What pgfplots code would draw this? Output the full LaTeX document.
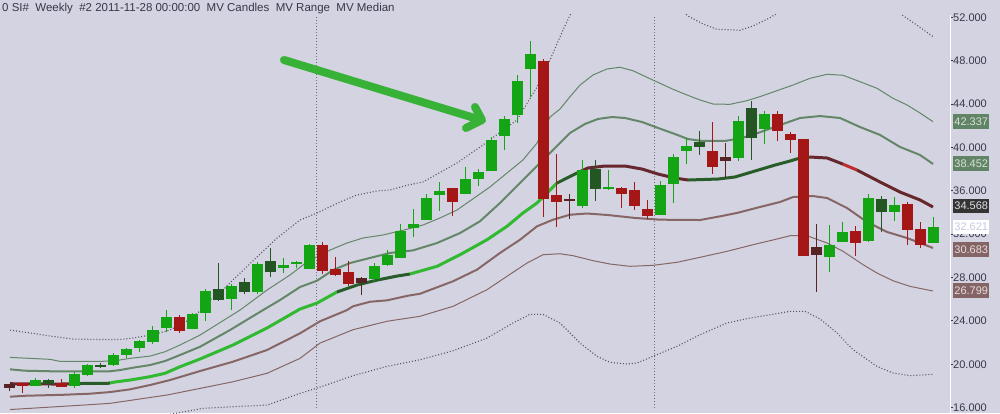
\documentclass[border=0pt]{standalone}
\usepackage{pgfplots}
\pgfplotsset{compat=1.18}
\usepackage{pgfplotstable}
\usepackage{fontspec}
\setmainfont{Liberation Sans}
\definecolor{bg}{RGB}{211,211,225}
\definecolor{labcol}{RGB}{55,55,75}
\definecolor{cgreen}{RGB}{20,165,20}
\definecolor{cdkgreen}{RGB}{36,86,36}
\definecolor{cred}{RGB}{165,22,22}
\definecolor{cmaroon}{RGB}{86,36,36}
\definecolor{mgreen}{RGB}{50,185,50}
\definecolor{mdkgreen}{RGB}{40,92,40}
\definecolor{mmaroon}{RGB}{102,40,45}
\definecolor{mred}{RGB}{190,45,45}
\definecolor{bandgreen}{RGB}{100,135,105}
\definecolor{bandbrown}{RGB}{135,102,102}
\definecolor{dotcol}{RGB}{85,85,95}
\definecolor{vdot}{RGB}{110,110,122}
\definecolor{arrowgreen}{RGB}{55,178,55}
\definecolor{boxgreen}{RGB}{98,132,102}
\definecolor{boxbrown}{RGB}{132,100,100}
\definecolor{boxdark}{RGB}{52,52,52}

\pgfplotstableread{
x lo hi bb bt
2 18.01 18.73 18.01 18.54
5 17.83 19.31 18.01 19.09
6 18.94 19.99 19.00 19.92
8 19.83 21.03 19.92 20.85
9 20.60 21.52 20.85 21.40
10 21.12 22.26 21.49 22.14
11 21.89 23.52 22.05 23.15
12 23.00 25.00 23.34 24.35
14 23.24 24.72 23.24 24.63
15 24.01 26.91 24.75 26.75
17 25.00 27.40 26.01 27.21
19 26.47 29.43 26.66 29.24
21 28.41 29.80 28.90 29.15
22 28.87 29.52 29.24 29.43
23 28.78 31.09 28.78 31.00
28 27.67 29.33 27.86 29.06
29 29.06 30.53 29.15 30.07
30 29.80 32.93 29.80 32.29
31 31.73 34.32 32.59 32.93
32 33.33 35.70 33.33 35.33
33 34.16 36.81 35.63 35.98
35 35.73 38.19 35.73 37.08
36 36.46 38.01 37.11 37.73
37 37.85 40.96 37.85 40.68
38 39.79 42.89 41.01 42.62
39 42.28 46.68 43.01 46.12
40 44.68 49.81 47.26 48.61
44 34.44 38.84 34.62 37.91
46 36.10 37.91 36.19 36.35
50 33.79 36.90 33.79 36.53
51 34.90 39.39 36.65 39.11
52 38.50 40.86 39.69 40.13
56 38.77 42.89 39.05 42.43
58 40.34 43.36 41.72 43.08
63 28.53 32.84 29.92 31.00
64 31.30 33.14 31.30 32.20
66 31.30 35.70 31.39 35.33
68 33.24 35.42 34.07 34.68
71 31.21 33.58 31.21 32.65
}\tgreen

\pgfplotstableread{
x lo hi bb bt
3 17.83 18.63 18.14 18.54
7 19.65 20.14 19.74 19.92
16 25.86 29.33 25.92 26.94
18 26.50 27.95 26.66 27.58
20 28.07 30.72 28.50 29.52
45 35.08 38.84 36.19 38.01
53 39.32 41.51 40.06 40.50
57 38.86 44.28 40.89 43.63
67 32.22 35.52 34.07 35.24
}\tdkgreen

\pgfplotstableread{
x lo hi bb bt
1 17.37 18.29 18.01 18.29
4 17.92 18.63 17.92 18.24
13 22.90 24.54 23.09 24.35
24 28.35 31.27 28.60 31.00
25 28.13 29.89 28.23 28.78
26 27.21 29.52 27.40 28.50
34 33.70 36.25 34.99 36.25
41 33.61 48.15 35.27 47.97
42 32.68 39.39 34.99 35.61
47 34.44 36.35 35.73 36.25
48 34.25 36.81 34.62 36.07
49 33.42 35.15 33.70 34.32
54 37.57 42.34 38.22 39.67
59 40.62 43.36 41.54 43.08
60 39.51 41.42 40.71 41.23
61 30.01 40.77 30.01 40.77
65 30.01 32.75 31.21 32.29
69 31.02 34.96 32.41 34.78
70 30.75 33.12 31.02 32.47
}\tred

\pgfplotstableread{
x lo hi bb bt
0 17.53 18.17 17.83 18.17
27 26.38 28.04 27.49 27.95
43 33.42 35.70 35.08 35.24
55 37.20 40.40 38.77 39.11
62 26.69 32.93 30.10 30.81
}\tmaroon

\newcommand{\candles}[2]{%
  \addplot[draw=none, mark=none, forget plot, error bars/.cd, y dir=plus, y explicit, error mark=none,
    error bar style={draw=#2, line width=1pt}]
    table[x=x, y=lo, y error expr=\thisrow{hi}-\thisrow{lo}] {#1};
  \addplot[draw=none, mark=none, forget plot, error bars/.cd, y dir=plus, y explicit, error mark=none,
    error bar style={draw=#2, line width=11pt}]
    table[x=x, y=bb, y error expr=\thisrow{bt}-\thisrow{bb}] {#1};
}

\begin{document}
\begin{tikzpicture}
\path[use as bounding box] (0pt,0pt) rectangle (1000pt,413pt);
\fill[bg] (0pt,0pt) rectangle (1000pt,413pt);
\begin{axis}[
  at={(0pt,0pt)}, anchor=south west,
  scale only axis, width=950pt, height=398pt,
  xmin=-0.769, xmax=72.308, ymin=15.50, ymax=52.21,
  axis x line=none,
  axis y line*=right,
  y axis line style={draw=white, line width=1pt, -},
  xtick=\empty,
  ytick={16,20,24,28,32,36,40,44,48,52},
  tick align=outside, major tick length=3pt,
  tick style={draw=labcol, line width=0.8pt},
  yticklabel style={font=\fontsize{11}{13}\selectfont, text=labcol, anchor=west, inner sep=0pt},
  /pgf/number format/assume math mode=true,
  yticklabel={\pgfmathprintnumber[fixed,fixed zerofill,precision=3]{\tick}},
  clip=true,
]
% vertical dotted separators
\addplot[vdot, line width=1pt, dash pattern=on 1pt off 2pt] coordinates {(23.54,16.0) (23.54,52.21)};
\addplot[vdot, line width=1pt, dash pattern=on 1pt off 2pt] coordinates {(49.56,16.0) (49.56,52.21)};

% upper dotted band
\addplot[dotcol, line width=1.1pt, dash pattern=on 1pt off 2pt] coordinates {
(0,23.15) (1.54,22.88) (3.08,22.60) (4.85,22.32) (6.92,22.28) (8.46,22.28) (9.46,22.41)
(10.77,22.69) (12.08,23.06) (13.31,23.71) (14.62,24.91) (15.38,25.92) (16.38,26.84)
(17.15,27.77) (19.00,29.89) (20.54,31.64) (22.31,33.30) (23.62,33.95) (25.38,34.96)
(26.69,35.61) (28.23,35.98) (29.23,36.07) (30.62,36.53) (31.77,36.81) (34.38,38.56)
(36.38,40.22) (39.00,42.53) (40.54,45.57) (41.54,48.06) (42.54,50.83) (43.46,53.13)
(45.38,55.90) (47.31,56.82) (49.62,54.98) (52.15,52.12) (53.31,51.38) (54.38,50.89)
(56.15,50.80) (57.15,51.20) (58.23,51.82) (59.23,52.49) (61.54,54.52) (64.23,54.98)
(66.54,54.06) (68.08,52.86) (68.69,52.15) (69.85,51.20) (71.00,50.21)};

% upper thin green band
\addplot[bandgreen, line width=1pt] coordinates {
(0,20.63) (3.08,20.45) (3.85,20.26) (6.92,20.26) (8.08,20.32) (9.23,20.54) (10.77,20.75)
(11.92,21.15) (13.08,21.77) (14.62,22.69) (17.69,24.99) (19.77,26.84) (21.54,28.23)
(22.85,29.43) (24.62,30.53) (25.92,31.18) (27.15,31.64) (28.69,31.92) (30.62,32.47)
(31.77,32.84) (33.08,33.49) (34.38,34.22) (36.92,36.35) (39.46,38.84) (40.54,40.40)
(41.54,42.80) (42.31,43.54) (43.08,44.68) (43.85,45.75) (44.85,46.68) (45.92,47.23)
(46.92,47.39) (47.92,47.07) (49.00,46.46) (50.00,45.91) (51.00,45.36) (52.08,44.83)
(53.08,44.37) (54.08,44.00) (55.38,43.97) (56.69,44.31) (57.69,44.68) (59.00,45.23)
(60.23,45.75) (61.54,46.37) (62.85,46.74) (64.08,46.65) (65.38,46.06) (66.69,45.45)
(67.92,44.53) (69.00,43.91) (70.00,43.17) (71.00,42.37)};

% upper thick green band
\addplot[bandgreen, line width=2pt] coordinates {
(0,19.53) (1.15,19.40) (3.08,19.35) (7.69,19.35) (8.46,19.46) (9.62,19.71) (10.77,19.92)
(11.92,20.29) (13.08,20.85) (14.62,21.61) (16.92,23.15) (19.46,24.99) (20.77,25.92)
(22.31,27.12) (23.62,27.70) (24.85,28.69) (26.15,29.33) (27.69,29.80) (29.23,30.26)
(31.00,30.50) (32.85,31.18) (34.62,32.10) (36.15,33.18) (37.69,34.87) (39.46,36.99)
(41.54,39.48) (43.08,41.33) (44.23,42.16) (45.23,42.62) (46.31,42.80) (47.31,42.71)
(48.62,42.34) (49.85,41.79) (51.15,41.23) (52.15,40.77) (53.23,40.59) (55.00,40.59)
(56.31,40.87) (57.54,41.33) (59.23,42.06) (60.77,42.71) (62.31,42.89) (63.85,42.71)
(65.38,41.88) (66.92,41.15) (68.46,40.04) (70.00,39.30) (71.00,38.47)};

% lower thick brown band
\addplot[bandbrown, line width=2pt] coordinates {
(0,17.00) (1.15,17.09) (4.08,17.18) (6.15,17.28) (7.69,17.43) (9.23,17.68) (10.77,18.08)
(12.31,18.54) (14.62,19.37) (17.15,20.23) (19.77,21.31) (22.31,22.85) (23.85,23.96)
(25.92,24.99) (26.38,25.34) (27.69,25.76) (29.00,25.89) (30.62,26.32) (31.54,26.50)
(34.08,27.65) (35.92,28.72) (37.69,30.26) (39.23,31.48) (40.54,32.72) (41.77,33.33)
(43.08,33.79) (44.38,33.90) (46.00,33.76) (48.08,33.49) (50.00,33.33) (53.08,33.30)
(54.62,33.64) (55.92,33.95) (57.69,34.50) (59.23,34.96) (60.23,35.42) (61.77,35.51)
(62.85,35.33) (64.38,34.41) (65.92,33.12) (67.46,32.20) (69.00,31.64) (71.00,30.72)};

% lower thin brown band
\addplot[bandbrown, line width=1pt] coordinates {
(0,15.82) (1.54,15.93) (5.62,16.23) (7.69,16.39) (9.46,16.70) (12.08,17.16) (14.62,17.77)
(17.15,18.38) (19.77,19.16) (22.31,20.54) (23.85,21.95) (26.38,23.18) (29.00,23.96)
(31.54,24.42) (34.08,25.34) (36.69,26.87) (38.23,28.11) (39.77,29.33) (41.00,30.10)
(42.31,30.19) (43.31,30.01) (44.85,29.55) (46.15,29.24) (47.69,29.03) (49.46,29.12)
(51.31,29.40) (53.08,29.86) (55.15,30.41) (57.15,31.02) (59.00,31.55) (60.00,31.85)
(61.31,31.85) (62.85,31.18) (64.08,30.41) (65.62,29.18) (66.69,28.41) (67.92,27.70)
(69.23,27.18) (71.00,26.75)};

% lower dotted band
\addplot[dotcol, line width=1.1pt, dash pattern=on 1pt off 2pt] coordinates {
(0,13.28) (6.92,14.11) (10.77,15.04) (14.85,15.93) (17.15,16.08) (19.77,16.23) (22.31,17.31)
(23.85,17.89) (26.38,18.94) (29.00,19.80) (31.54,20.41) (34.08,21.24) (36.69,22.41)
(38.69,23.80) (40.00,24.60) (41.00,24.60) (42.31,23.80) (43.85,21.95) (45.15,20.73)
(46.15,20.17) (47.46,20.02) (48.23,20.11) (49.46,20.73) (51.31,21.65) (53.08,22.72)
(55.15,23.80) (56.92,24.26) (58.46,24.56) (60.00,24.88) (61.15,24.88) (62.31,24.17)
(63.62,22.88) (64.85,21.34) (66.69,19.80) (67.92,19.19) (69.23,18.94) (71.00,19.07)};

% median, coloured by trend
\addplot[mmaroon, line width=3pt] coordinates {(0,18.20) (3.85,18.17) (5.38,18.22)};
\addplot[mdkgreen, line width=3pt] coordinates {(5.38,18.22) (7.54,18.24) (7.70,18.27)};
\addplot[mgreen, line width=3pt] coordinates {(7.70,18.27) (8.08,18.36) (9.23,18.54) (10.77,18.85)
 (11.92,19.16) (13.08,19.77) (14.62,20.48) (17.15,21.77) (19.77,23.34) (22.31,25.09) (23.62,25.64) (25.15,26.66)};
\addplot[mdkgreen, line width=3pt] coordinates {(25.15,26.66) (26.69,27.30) (28.23,27.76) (29.77,28.13) (30.77,28.32)};
\addplot[mgreen, line width=3pt] coordinates {(30.77,28.32) (32.85,29.03) (34.62,30.10) (36.69,31.48)
 (38.23,32.72) (39.46,33.95) (40.54,34.87) (41.77,36.35) (42.08,36.71)};
\addplot[mdkgreen, line width=3pt] coordinates {(42.08,36.71) (43.62,37.64)};
\addplot[mmaroon, line width=3pt] coordinates {(43.62,37.64) (44.46,38.10) (45.77,38.28) (47.31,38.28)
 (48.62,38.00) (49.85,37.54) (51.15,37.17) (52.15,36.99)};
\addplot[mdkgreen, line width=3pt] coordinates {(52.15,36.99) (54.46,37.08) (55.77,37.27) (57.31,37.82)
 (58.85,38.37) (60.00,38.74) (60.77,39.02) (61.54,39.11)};
\addplot[mmaroon, line width=3pt] coordinates {(61.54,39.11) (62.85,39.02) (63.85,38.56) (64.08,38.45)};
\addplot[mred, line width=3pt] coordinates {(64.08,38.45) (65.15,37.91)};
\addplot[mmaroon, line width=3pt] coordinates {(65.15,37.91) (66.92,36.81) (68.46,35.88) (70.00,35.15) (71.00,34.50)};

% candles
\candles{\tgreen}{cgreen}
\candles{\tdkgreen}{cdkgreen}
\candles{\tred}{cred}
\candles{\tmaroon}{cmaroon}
\end{axis}

% title
\node[anchor=base west, inner sep=0pt, font=\fontsize{11.5}{13}\selectfont, text=labcol] at (2pt,401pt)
  {0 SI\#\ \ Weekly\ \ \#2 2011-11-28 00:00:00\ \ MV Candles\ \ MV Range\ \ MV Median};

% arrow annotation
\draw[arrowgreen, line width=8pt, line cap=round, line join=round] (284pt,353pt) -- (481pt,293pt);
\draw[arrowgreen, line width=8pt, line cap=round, line join=round] (475pt,306pt) -- (482pt,293pt) -- (466pt,285pt);

% last-value boxes
\tikzset{vbox/.style={anchor=west, inner sep=0pt, minimum width=36pt, minimum height=14.5pt, font=\fontsize{11}{13}\selectfont}}
\node[vbox, fill=boxgreen, text={rgb,255:red,215;green,228;blue,215}] at (953pt,291.7pt) {42.337};
\node[vbox, fill=boxgreen, text={rgb,255:red,215;green,228;blue,215}] at (953pt,249.7pt) {38.452};
\node[vbox, fill=boxdark, text={rgb,255:red,225;green,225;blue,230}] at (953pt,207pt) {34.568};
\node[vbox, fill=white, text={rgb,255:red,200;green,200;blue,228}] at (953pt,185.8pt) {32.621};
\node[vbox, fill=boxbrown, text={rgb,255:red,232;green,222;blue,222}] at (953pt,163.5pt) {30.683};
\node[vbox, fill=boxbrown, text={rgb,255:red,232;green,222;blue,222}] at (953pt,122.5pt) {26.799};
\end{tikzpicture}
\end{document}
